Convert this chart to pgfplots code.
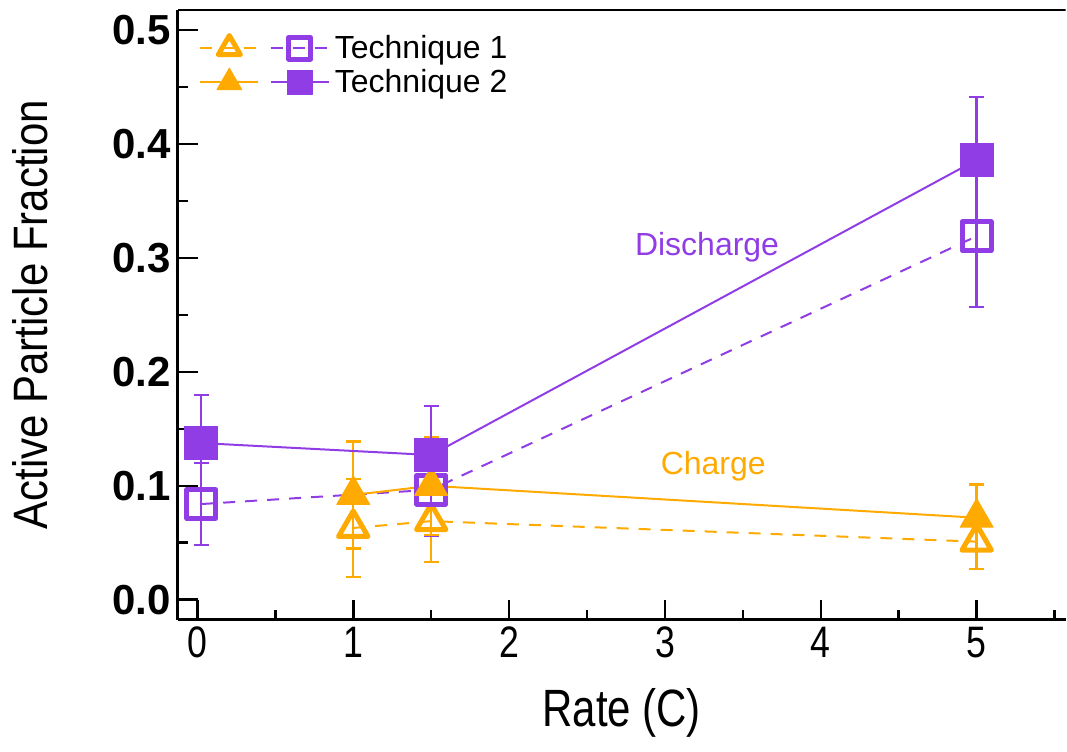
\documentclass[border=0pt]{standalone}
\usepackage{fontspec}
\setmainfont{Liberation Sans}
\usepackage{pgfplots}
\pgfplotsset{compat=1.18}
\definecolor{pur}{RGB}{145,61,230}
\definecolor{org}{RGB}{255,170,0}
\pgfplotsset{
  ebar/.style={error bars/.cd, y dir=both, y explicit,
    error bar style={line width=1.2pt, solid},
    error mark options={rotate=90, mark size=3.75pt, line width=1.2pt, solid}},
}
\begin{document}
\begin{tikzpicture}
\begin{axis}[
  name=ax,
  scale only axis, width=444pt, height=305pt,
  xmin=-0.125, xmax=5.57, ymin=-0.0175, ymax=0.5175,
  axis x line*=bottom, axis y line*=left,
  xtick pos=left, ytick pos=left,
  axis line style={line width=1.5pt, -},
  tick style={line width=1.3pt, black},
  tick align=inside,
  major tick length=10pt, minor tick length=5pt,
  xtick={0,1,2,3,4,5}, minor xtick={0.5,1.5,2.5,3.5,4.5,5.5},
  ytick={0,0.1,0.2,0.3,0.4,0.5}, minor ytick={0.05,0.15,0.25,0.35,0.45},
  /pgf/number format/assume math mode=true,
  yticklabel style={font=\bfseries\fontsize{21}{24}\selectfont, /pgf/number format/.cd, fixed, fixed zerofill, precision=1},
  xticklabel style={font=\fontsize{21}{24}\selectfont, xscale=0.85, yscale=1.05},
  xlabel={Rate (C)}, ylabel={Active Particle Fraction},
  xlabel style={font=\fontsize{21}{24}\selectfont, at={(rel axis cs:0.5,0)}, anchor=center, yshift=-46.5pt, yscale=1.25},
  ylabel style={font=\fontsize{21}{24}\selectfont, at={(rel axis cs:-0.1667,0.5)}, anchor=center, yscale=1.15},
  legend columns=2,
  legend style={at={(axis cs:0.01,0.4975)}, anchor=north west, draw=none, fill=none,
    font=\fontsize{16}{19}\selectfont, inner sep=0pt, column sep=1.6pt, row sep=2pt,
    nodes={inner sep=1pt}},
  legend image code/.code={\draw[mark repeat=2,mark phase=2] plot coordinates {(0pt,0pt) (14.5pt,0pt) (29pt,0pt)};},
  legend image post style={every mark/.append style={scale=0.75}},
]
\draw[line width=1.5pt] (rel axis cs:0,1) -- (rel axis cs:1,1);

% Technique 1, charge (open triangles)
\addplot[org, line width=1pt, dash pattern=on 6pt off 5pt, mark=triangle, mark size=8.5pt,
  mark options={solid, line width=2.5pt, line join=round}, ebar]
  table[x=x, y=y, y error=e] {
x y e
1 0.063 0.043
1.5 0.069 0.036
5 0.051 0.024
};
\addlegendentry{}
% Technique 1, discharge (open squares)
\addplot[pur, line width=1pt, dash pattern=on 6pt off 5pt, mark=square, mark size=7.2pt,
  mark options={solid, line width=2.5pt, line join=round}, ebar]
  table[x=x, y=y, y error=e] {
x y e
0.025 0.084 0.036
1.5 0.0965 0.040
5 0.319 0.062
};
\addlegendentry{Technique 1}
% Technique 2, charge (filled triangles)
\addplot[org, line width=1pt, solid, mark=triangle*, mark size=9.5pt,
  mark options={solid, fill=org, line width=0.5pt, line join=round}, ebar]
  table[x=x, y=y, y error=e] {
x y e
1 0.092 0.047
1.5 0.100 0.043
5 0.072 0.029
};
\addlegendentry{}
% Technique 2, discharge (filled squares)
\addplot[pur, line width=1pt, solid, mark=square*, mark size=8.3pt,
  mark options={solid, fill=pur, line width=0.5pt, line join=round}, ebar]
  table[x=x, y=y, y error=e] {
x y e
0.025 0.1375 0.042
1.5 0.127 0.043
5 0.386 0.055
};
\addlegendentry{Technique 2}

\node[text=pur, font=\fontsize{16}{19}\selectfont] at (axis cs:3.27,0.309) {Discharge};
\node[text=org, font=\fontsize{16}{19}\selectfont] at (axis cs:3.31,0.117) {Charge};
\end{axis}
\path ([shift={(-89pt,-66pt)}]ax.south west) rectangle ([shift={(0.5pt,5pt)}]ax.north east);
\end{tikzpicture}
\end{document}
